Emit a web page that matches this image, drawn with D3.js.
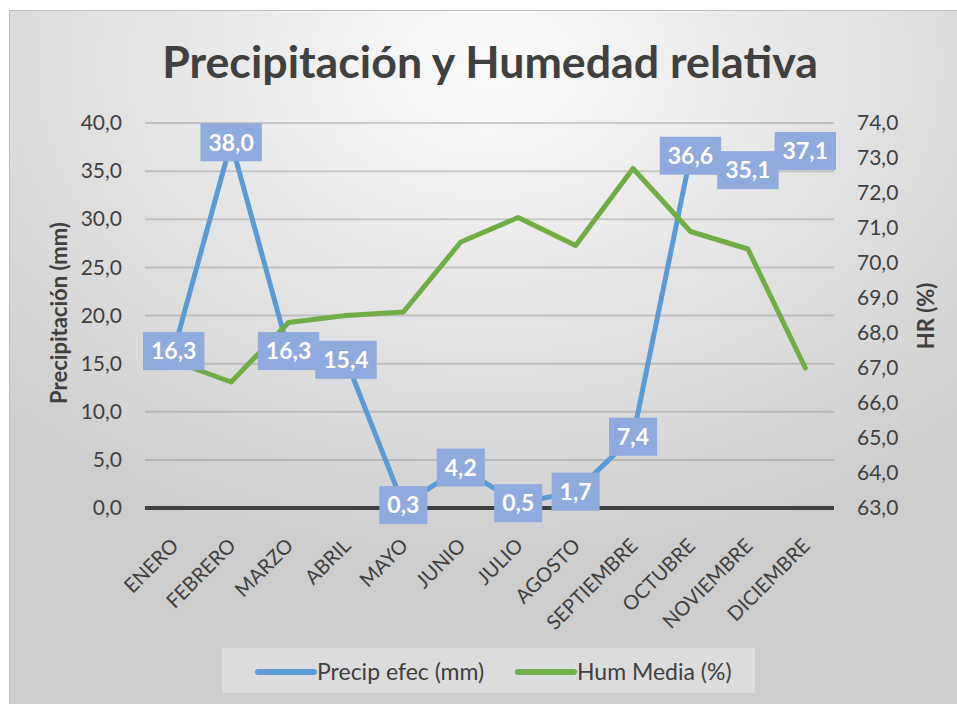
<!DOCTYPE html>
<html lang="es">
<head>
<meta charset="UTF-8">
<title>Precipitación y Humedad relativa</title>
<script src="https://d3js.org/d3.v7.min.js"></script>
<style>
  body { margin: 0; background: #fff; }
  svg, svg text { font-family: Lato, "Open Sans", sans-serif; }
  svg { display: block; }
  .tick text { fill: #404040; font-size: 21px; }
  .grid { stroke: #7f7f7f; stroke-opacity: 0.35; stroke-width: 2px; }
  .zero { stroke: #404040; stroke-width: 4px; }
  .series { fill: none; stroke-width: 5px; stroke-linejoin: round; stroke-linecap: round; }
  .lbl rect { fill: #8faadc; }
  .lbl text { fill: #fff; font-weight: bold; font-size: 23px; }
  .axis-title { fill: #404040; font-weight: bold; font-size: 22px; }
  .legend text { fill: #404040; font-size: 23px; }
</style>
</head>
<body>
<div id="chart"></div>
<script>
const months = ["ENERO", "FEBRERO", "MARZO", "ABRIL", "MAYO", "JUNIO", "JULIO",
                "AGOSTO", "SEPTIEMBRE", "OCTUBRE", "NOVIEMBRE", "DICIEMBRE"];
const precip = [16.3, 38.0, 16.3, 15.4, 0.3, 4.2, 0.5, 1.7, 7.4, 36.6, 35.1, 37.1];
const humidity = [67.2, 66.6, 68.3, 68.5, 68.6, 70.6, 71.3, 70.5, 72.7, 70.9, 70.4, 67.0];
const precipTicks = [0, 5, 10, 15, 20, 25, 30, 35, 40];
const humTicks = [63, 64, 65, 66, 67, 68, 69, 70, 71, 72, 73, 74];
const seriesNames = ["Precip efec (mm)", "Hum Media (%)"];
const colors = ["#5b9bd5", "#70ad47"];

const W = 957, H = 704;
const fmt = d => d.toFixed(1).replace(".", ",");

const svg = d3.select("#chart").append("svg")
    .attr("width", W).attr("height", H);

// background with soft radial shading
const grad = svg.append("defs").append("radialGradient")
    .attr("id", "bg").attr("cx", "50%").attr("cy", "8%").attr("r", "72%");
grad.append("stop").attr("offset", "0%").attr("stop-color", "#fbfbfb");
grad.append("stop").attr("offset", "100%").attr("stop-color", "#cdcdcd");

svg.append("rect")
    .attr("x", 9.5).attr("y", 10.5).attr("width", 960).attr("height", 700)
    .attr("fill", "url(#bg)").attr("stroke", "#bfbfbf");

const x = d3.scaleBand().domain(months).range([145, 834]);
const cx = m => x(m) + x.bandwidth() / 2;
const yL = d3.scaleLinear().domain([0, 40]).range([508, 123]);
const yR = d3.scaleLinear().domain([63, 74]).range([508, 123]);

// gridlines
svg.append("g").selectAll("line")
    .data(precipTicks)
    .enter().append("line")
    .attr("class", d => d === 0 ? "zero" : "grid")
    .attr("x1", 145).attr("x2", 834)
    .attr("y1", d => yL(d)).attr("y2", d => yL(d));

// axes
const left = svg.append("g").attr("transform", "translate(145,0)")
    .call(d3.axisLeft(yL).tickValues(precipTicks).tickFormat(fmt).tickSize(0).tickPadding(23));
left.select(".domain").remove();

const right = svg.append("g").attr("transform", "translate(834,0)")
    .call(d3.axisRight(yR).tickValues(humTicks).tickFormat(fmt).tickSize(0).tickPadding(23));
right.select(".domain").remove();

const bottom = svg.append("g").attr("transform", "translate(0,508)")
    .call(d3.axisBottom(x).tickSize(0));
bottom.select(".domain").remove();
bottom.selectAll("text")
    .attr("x", 0).attr("y", 0).attr("dy", 0)
    .attr("text-anchor", "end")
    .style("font-size", "20px")
    .attr("transform", "translate(6,39) rotate(-45)");

// axis titles
svg.append("text").attr("class", "axis-title")
    .attr("text-anchor", "middle")
    .attr("transform", "translate(67,313) rotate(-90)")
    .text("Precipitación (mm)");
svg.append("text").attr("class", "axis-title")
    .attr("text-anchor", "middle")
    .attr("transform", "translate(934,316) rotate(-90)")
    .text("HR (%)");

// lines
const lineL = d3.line().x((d, i) => cx(months[i])).y(d => yL(d));
const lineR = d3.line().x((d, i) => cx(months[i])).y(d => yR(d));

svg.append("path").attr("class", "series")
    .attr("stroke", colors[0]).attr("d", lineL(precip));
svg.append("path").attr("class", "series")
    .attr("stroke", colors[1]).attr("d", lineR(humidity));

// data labels for precipitation
const lbl = svg.append("g").selectAll("g")
    .data(precip)
    .enter().append("g")
    .attr("class", "lbl")
    .attr("transform", (d, i) => `translate(${cx(months[i])},${yL(d)})`);
lbl.append("rect");
lbl.append("text")
    .attr("text-anchor", "middle")
    .attr("dy", "0.36em")
    .text(fmt);
lbl.each(function () {
    const g = d3.select(this);
    const w = g.select("text").node().getComputedTextLength() + 16;
    g.select("rect").attr("x", -w / 2).attr("y", -19).attr("width", w).attr("height", 38);
});

// title
const title = svg.append("text")
    .attr("x", 490).attr("y", 78)
    .attr("text-anchor", "middle")
    .attr("font-weight", "bold")
    .attr("font-size", 42)
    .attr("fill", "#404040")
    .text("Precipitación y Humedad relativa");
const tw = title.node().getComputedTextLength();
title.attr("font-size", 42 * 656 / tw);

// legend
const legend = svg.append("g").attr("class", "legend");
legend.append("rect")
    .attr("x", 222).attr("y", 648).attr("width", 533).attr("height", 45)
    .attr("fill", "#fff").attr("fill-opacity", 0.3);
const items = [{ x: 258 }, { x: 518 }];
items.forEach((it, i) => {
    legend.append("line")
        .attr("x1", it.x).attr("x2", it.x + 56)
        .attr("y1", 672).attr("y2", 672)
        .attr("stroke", colors[i]).attr("stroke-width", 6)
        .attr("stroke-linecap", "round");
    legend.append("text")
        .attr("x", it.x + 59).attr("y", 680)
        .text(seriesNames[i]);
});
</script>
</body>
</html>
